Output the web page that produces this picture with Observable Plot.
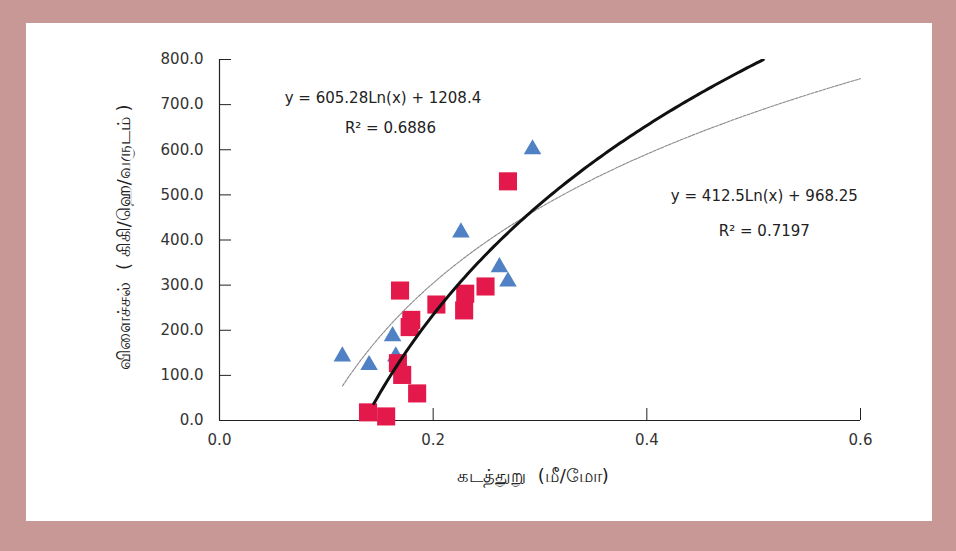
<!DOCTYPE html>
<html><head><meta charset="utf-8">
<script src="https://cdn.jsdelivr.net/npm/d3@7"></script>
<script src="https://cdn.jsdelivr.net/npm/@observablehq/plot@0.6"></script>
<style>
html,body{margin:0;padding:0;background:#c89896;width:956px;height:551px;overflow:hidden;}
#frame{position:absolute;left:26px;top:23px;width:906px;height:498px;background:#fff;}
#frame svg{display:block;}
</style></head><body><div id="frame"></div>
<script>
// Blue triangles series
const triX = [0.115, 0.140, 0.162, 0.165, 0.226, 0.262, 0.270, 0.293];
const triY = [142, 123, 187, 142, 417, 340, 308, 601];
// Red squares series
const sqX = [0.139, 0.156, 0.167, 0.171, 0.185, 0.169, 0.1795, 0.178, 0.203, 0.230, 0.229, 0.249, 0.270];
const sqY = [18, 9, 127, 101, 60, 288, 223, 207, 257, 281, 244, 297, 530];
// Tick values
const xTicks = [0, 0.2, 0.4, 0.6];
const yTicks = [0, 100, 200, 300, 400, 500, 600, 700, 800];
// Trendlines: y = a*ln(x) + b, drawn over the shown x span
const fitNames = ["squares", "triangles"];
const fitA = [605.28, 412.5];
const fitB = [1208.4, 968.25];
const fitFrom = [0.1445, 0.1152];
const fitTo = [0.509, 0.6];
// Equation labels
const eqText = ["y = 605.28Ln(x) + 1208.4", "R² = 0.6886", "y = 412.5Ln(x) + 968.25", "R² = 0.7197"];
const eqX = [0.153, 0.160, 0.510, 0.510];
const eqY = [715, 648, 496, 420];
// Axis titles
const xTitle = "கடத்துறு  (மீ/மோ)";
const yTitle = "விளைச்சல்  ( கிகி/ஹெ/வருடம் )";

const tri = triX.map((x, i) => ({x, y: triY[i]}));
const sq = sqX.map((x, i) => ({x, y: sqY[i]}));
const curves = fitNames.map((name, k) => {
  const n = 120, pts = [];
  for (let i = 0; i <= n; i++) {
    const x = fitFrom[k] + (fitTo[k] - fitFrom[k]) * i / n;
    pts.push({name, x, y: fitA[k] * Math.log(x) + fitB[k]});
  }
  return pts;
});
const eqs = eqText.map((t, i) => ({t, x: eqX[i], y: eqY[i]}));

const chart = Plot.plot({
  width: 906, height: 498,
  marginLeft: 193, marginRight: 72, marginTop: 36, marginBottom: 101,
  x: {domain: [0, 0.6]},
  y: {domain: [0, 800]},
  style: {fontFamily: "DejaVu Sans, sans-serif", fontSize: "15px", background: "transparent", color: "#222"},
  marks: [
    Plot.axisX(xTicks, {tickSize: -12, tickPadding: 26, tickFormat: ".1f", label: null, fill: "#333"}),
    Plot.axisY(yTicks, {tickSize: -12, tickPadding: 28, tickFormat: ".1f", label: null, fill: "#333"}),
    Plot.ruleX([0], {stroke: "#222", strokeWidth: 1.2}),
    Plot.ruleY([0], {stroke: "#222", strokeWidth: 1.2}),
    Plot.dot(tri, {x: "x", y: "y", symbol: "triangle", r: 6.5, fill: "#4f81c4", stroke: "none"}),
    Plot.dot(sq, {x: "x", y: "y", symbol: "square", r: 10.2, fill: "#e3194b", stroke: "none"}),
    Plot.line(curves[1], {x: "x", y: "y", stroke: "#8a8a8a", strokeWidth: 1.1, strokeDasharray: "3,1.2"}),
    Plot.line(curves[0], {x: "x", y: "y", stroke: "#111", strokeWidth: 3, clip: true}),
    Plot.text(eqs, {x: "x", y: "y", text: "t", fontSize: 15, fill: "#222"}),
    Plot.text([xTitle], {frameAnchor: "bottom", textAnchor: "middle", dy: 61, dx: -7, fontSize: 18, fill: "#222"}),
    Plot.text([yTitle], {frameAnchor: "left", textAnchor: "middle", dx: -95, dy: -3, rotate: -90, fontSize: 18, fill: "#222"})
  ]
});
document.getElementById("frame").appendChild(chart);
</script></body></html>
